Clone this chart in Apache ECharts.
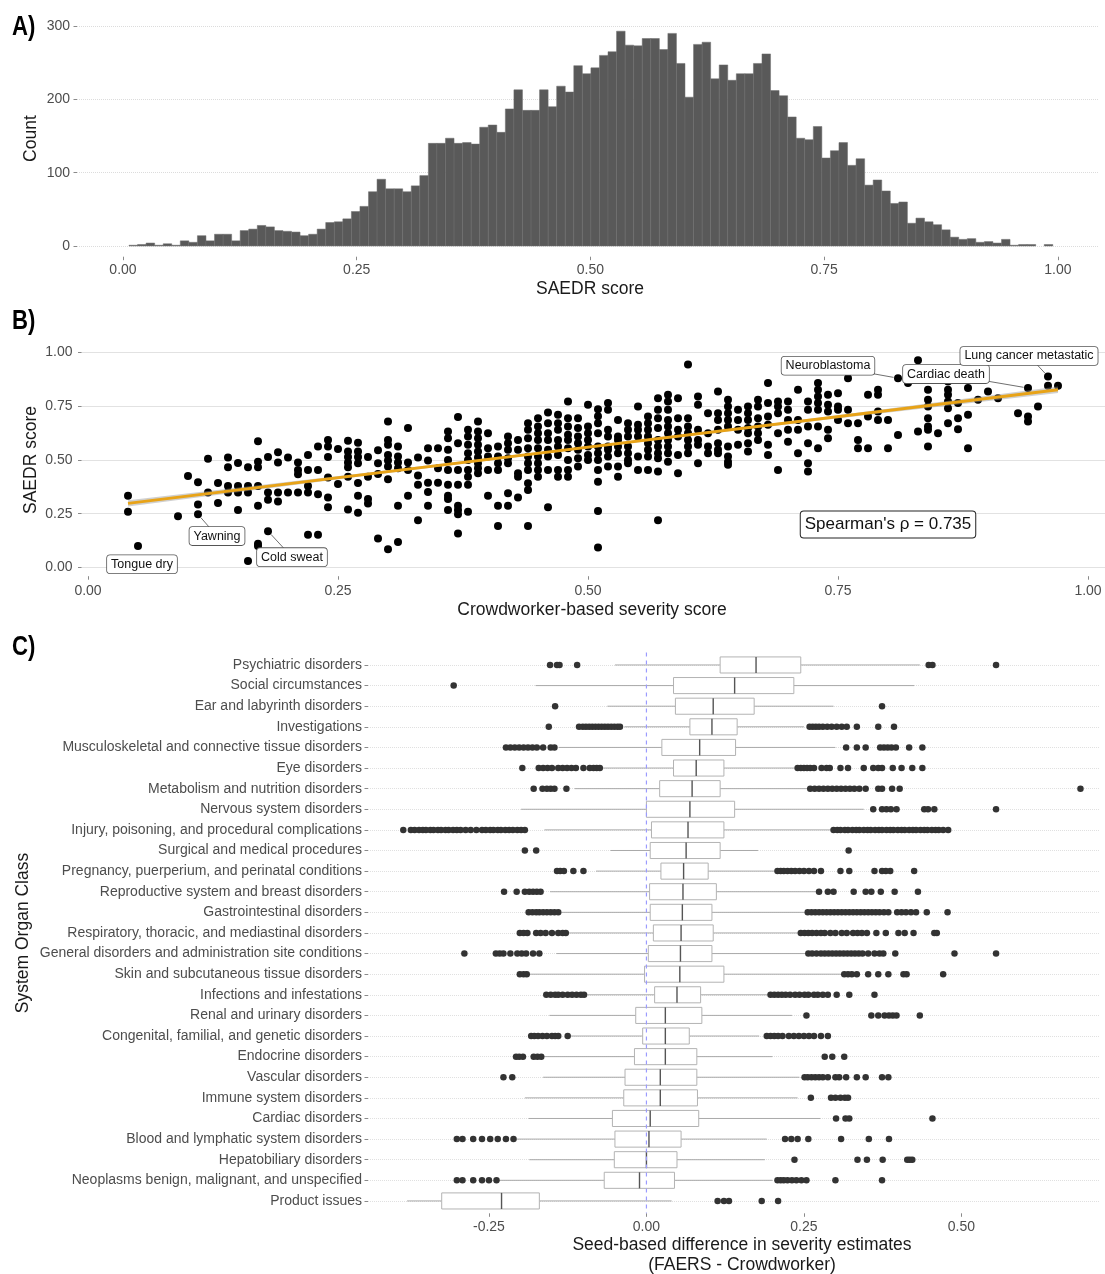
<!DOCTYPE html>
<html>
<head>
<meta charset="utf-8">
<title>SAEDR score figure</title>
<script src="https://cdn.jsdelivr.net/npm/echarts@6/dist/echarts.min.js"></script>
<style>
  html, body { margin: 0; padding: 0; background: #fff; }
  #chart { width: 1105px; height: 1274px; }
</style>
</head>
<body>
<div id="chart"></div>
<script>
// ---------- A) distribution of SAEDR scores ----------
const binStart = 0.0064;
const binWidth = 0.00915;
const binCounts = [
  1, 2, 4, 1, 3, 1, 7, 5, 14, 7, 16, 16, 7, 21, 23, 28, 26, 21, 20, 19,
  14, 16, 23, 32, 33, 37, 47, 54, 74, 91, 78, 78, 74, 82, 96, 140, 140, 147, 140, 141,
  139, 162, 165, 155, 187, 213, 185, 185, 213, 190, 218, 210, 246, 235, 243, 260, 265, 293, 274, 273,
  283, 283, 268, 290, 249, 203, 275, 278, 228, 247, 226, 235, 235, 249, 262, 212, 205, 176, 147, 145,
  163, 120, 130, 141, 110, 119, 83, 90, 75, 58, 60, 31, 38, 33, 29, 22, 12, 9, 10, 5,
  6, 4, 9, 1, 2, 2, 0, 2
];
const histXTicks = [0, 0.25, 0.5, 0.75, 1];
const histYTicks = [0, 100, 200, 300];

// ---------- B) crowdworker score vs SAEDR score ----------
// each entry: crowdworker score, then the SAEDR scores seen at that score
const scatterColumns = [
  [0.04, [0.334, 0.259]],
  [0.05, [0.100]],
  [0.09, [0.238]],
  [0.10, [0.425]],
  [0.11, [0.396, 0.293, 0.247]],
  [0.12, [0.505, 0.349]],
  [0.13, [0.393, 0.300]],
  [0.14, [0.511, 0.466, 0.379, 0.349]],
  [0.15, [0.486, 0.379, 0.348, 0.267]],
  [0.16, [0.466, 0.379, 0.349, 0.030]],
  [0.17, [0.587, 0.491, 0.466, 0.379, 0.287, 0.110, 0.100]],
  [0.18, [0.514, 0.348, 0.315, 0.169]],
  [0.19, [0.536, 0.488, 0.348, 0.307]],
  [0.20, [0.511, 0.348]],
  [0.21, [0.488, 0.453, 0.433, 0.348]],
  [0.22, [0.523, 0.453, 0.379, 0.348, 0.152]],
  [0.23, [0.562, 0.453, 0.340, 0.152]],
  [0.24, [0.593, 0.562, 0.514, 0.418, 0.325, 0.280]],
  [0.25, [0.551, 0.388]],
  [0.26, [0.589, 0.539, 0.514, 0.488, 0.466, 0.422, 0.269]],
  [0.27, [0.580, 0.539, 0.514, 0.484, 0.393, 0.334, 0.255]],
  [0.28, [0.514, 0.422, 0.318, 0.297]],
  [0.29, [0.545, 0.484, 0.435, 0.135]],
  [0.30, [0.679, 0.593, 0.570, 0.523, 0.497, 0.469, 0.410, 0.085]],
  [0.31, [0.562, 0.516, 0.488, 0.461, 0.287, 0.118]],
  [0.32, [0.648, 0.488, 0.453, 0.334]],
  [0.33, [0.511, 0.427, 0.384, 0.220]],
  [0.34, [0.554, 0.497, 0.394, 0.351, 0.287]],
  [0.35, [0.554, 0.461, 0.394]],
  [0.36, [0.632, 0.601, 0.547, 0.500, 0.453, 0.384, 0.334, 0.318, 0.267]],
  [0.37, [0.699, 0.578, 0.453, 0.384, 0.287, 0.267, 0.247, 0.158]],
  [0.38, [0.640, 0.609, 0.570, 0.531, 0.500, 0.453, 0.422, 0.384, 0.259]],
  [0.39, [0.679, 0.632, 0.601, 0.570, 0.539, 0.511, 0.484, 0.461, 0.438]],
  [0.40, [0.624, 0.554, 0.516, 0.453, 0.334]],
  [0.41, [0.562, 0.516, 0.484, 0.453, 0.287, 0.193]],
  [0.42, [0.609, 0.578, 0.547, 0.508, 0.484, 0.345, 0.287]],
  [0.43, [0.593, 0.547, 0.438, 0.422, 0.325]],
  [0.44, [0.671, 0.640, 0.601, 0.554, 0.516, 0.484, 0.453, 0.391, 0.360, 0.193]],
  [0.45, [0.694, 0.655, 0.624, 0.593, 0.554, 0.516, 0.484, 0.453, 0.422]],
  [0.46, [0.720, 0.671, 0.624, 0.593, 0.547, 0.516, 0.453, 0.280]],
  [0.47, [0.710, 0.671, 0.640, 0.593, 0.562, 0.523, 0.453, 0.422]],
  [0.48, [0.772, 0.694, 0.655, 0.617, 0.593, 0.554, 0.500, 0.453, 0.422]],
  [0.49, [0.694, 0.648, 0.609, 0.578, 0.547, 0.508, 0.469]],
  [0.50, [0.756, 0.655, 0.624, 0.593, 0.562, 0.523, 0.500]],
  [0.51, [0.736, 0.703, 0.671, 0.624, 0.562, 0.531, 0.500, 0.453, 0.399, 0.262, 0.093]],
  [0.52, [0.764, 0.733, 0.640, 0.609, 0.562, 0.547, 0.516, 0.469]],
  [0.53, [0.686, 0.609, 0.593, 0.562, 0.531, 0.469, 0.422]],
  [0.54, [0.671, 0.640, 0.609, 0.562, 0.531, 0.500, 0.484]],
  [0.55, [0.748, 0.663, 0.640, 0.609, 0.516, 0.453]],
  [0.56, [0.702, 0.671, 0.640, 0.609, 0.578, 0.547, 0.516, 0.453]],
  [0.57, [0.787, 0.733, 0.694, 0.648, 0.593, 0.562, 0.531, 0.508, 0.446, 0.220]],
  [0.58, [0.803, 0.772, 0.733, 0.686, 0.655, 0.624, 0.593, 0.562, 0.531, 0.492]],
  [0.59, [0.787, 0.694, 0.640, 0.609, 0.523, 0.438]],
  [0.60, [0.943, 0.694, 0.655, 0.624, 0.593, 0.562, 0.531]],
  [0.61, [0.795, 0.756, 0.640, 0.593, 0.570, 0.484]],
  [0.62, [0.717, 0.624, 0.562, 0.531]],
  [0.63, [0.818, 0.717, 0.686, 0.640, 0.578, 0.547, 0.531]],
  [0.64, [0.780, 0.748, 0.717, 0.686, 0.655, 0.562, 0.516, 0.492, 0.477]],
  [0.65, [0.733, 0.686, 0.640, 0.570]],
  [0.66, [0.748, 0.717, 0.686, 0.648, 0.624, 0.578, 0.539]],
  [0.67, [0.780, 0.748, 0.694, 0.655, 0.624, 0.593]],
  [0.68, [0.857, 0.764, 0.702, 0.663, 0.570, 0.523]],
  [0.69, [0.772, 0.748, 0.717, 0.624, 0.453]],
  [0.70, [0.772, 0.733, 0.686, 0.640, 0.585]],
  [0.71, [0.826, 0.686, 0.640, 0.531]],
  [0.72, [0.772, 0.733, 0.655, 0.578, 0.484, 0.446]],
  [0.73, [0.857, 0.826, 0.795, 0.764, 0.733, 0.655, 0.554]],
  [0.74, [0.803, 0.756, 0.725, 0.640, 0.601]],
  [0.75, [0.810, 0.748, 0.733, 0.686]],
  [0.76, [0.880, 0.733, 0.671]],
  [0.77, [0.671, 0.593, 0.554]],
  [0.78, [0.803, 0.702, 0.554]],
  [0.79, [0.826, 0.803, 0.725, 0.686]],
  [0.80, [0.686, 0.554]],
  [0.81, [0.880, 0.616]],
  [0.82, [0.857]],
  [0.83, [0.963, 0.632]],
  [0.84, [0.826, 0.780, 0.748, 0.694, 0.655, 0.640, 0.562]],
  [0.85, [0.624]],
  [0.86, [0.865, 0.826, 0.803, 0.772, 0.740, 0.671]],
  [0.87, [0.764, 0.694, 0.643]],
  [0.88, [0.834, 0.710, 0.554]],
  [0.89, [0.780]],
  [0.90, [0.818]],
  [0.91, [0.787]],
  [0.93, [0.717]],
  [0.94, [0.834, 0.702, 0.679]],
  [0.95, [0.748]],
  [0.96, [0.888, 0.845]],
  [0.97, [0.845]]
];
const fitX = [0.04, 0.97];
const fitY = [0.298, 0.826];
const bandX = [0.04, 0.27, 0.50, 0.74, 0.97];
const bandLow = [0.284, 0.422, 0.554, 0.688, 0.811];
const bandHigh = [0.312, 0.436, 0.564, 0.702, 0.841];
const labelNames = ['Tongue dry', 'Yawning', 'Cold sweat', 'Neuroblastoma', 'Cardiac death', 'Lung cancer metastatic'];
const labelPoints = [[0.05, 0.100], [0.11, 0.247], [0.18, 0.169], [0.81, 0.880], [0.94, 0.834], [0.96, 0.888]];
const labelSpots = [[0.054, 0.015], [0.129, 0.146], [0.204, 0.048], [0.740, 0.938], [0.858, 0.899], [0.941, 0.983]];
const labelLeader = [false, true, true, true, true, true];
const spearmanText = "Spearman's \u03c1 = 0.735";
const spearmanSpot = [0.8, 0.2];
const scatterTicks = [0, 0.25, 0.5, 0.75, 1];

// ---------- C) seed-based difference by system organ class ----------
const organClasses = [
  'Psychiatric disorders', 'Social circumstances', 'Ear and labyrinth disorders', 'Investigations',
  'Musculoskeletal and connective tissue disorders', 'Eye disorders', 'Metabolism and nutrition disorders',
  'Nervous system disorders', 'Injury, poisoning, and procedural complications', 'Surgical and medical procedures',
  'Pregnancy, puerperium, and perinatal conditions', 'Reproductive system and breast disorders',
  'Gastrointestinal disorders', 'Respiratory, thoracic, and mediastinal disorders',
  'General disorders and administration site conditions', 'Skin and subcutaneous tissue disorders',
  'Infections and infestations', 'Renal and urinary disorders', 'Congenital, familial, and genetic disorders',
  'Endocrine disorders', 'Vascular disorders', 'Immune system disorders', 'Cardiac disorders',
  'Blood and lymphatic system disorders', 'Hepatobiliary disorders',
  'Neoplasms benign, malignant, and unspecified', 'Product issues'
];
const whiskerLow = [-0.050, -0.176, -0.062, -0.035, -0.139, -0.071, -0.114, -0.199, -0.162, -0.057, -0.080, -0.153, -0.135, -0.126, -0.143, -0.187, -0.094, -0.154, -0.122, -0.164, -0.164, -0.193, -0.187, -0.207, -0.186, -0.233, -0.380];
const quart1 = [0.117, 0.043, 0.046, 0.069, 0.0245, 0.043, 0.021, 0.000, 0.008, 0.006, 0.023, 0.005, 0.006, 0.011, 0.003, -0.003, 0.013, -0.017, -0.006, -0.019, -0.034, -0.036, -0.054, -0.050, -0.051, -0.067, -0.325];
const medians = [0.174, 0.140, 0.106, 0.104, 0.0845, 0.079, 0.0725, 0.069, 0.066, 0.063, 0.059, 0.058, 0.057, 0.055, 0.054, 0.053, 0.0485, 0.030, 0.030, 0.030, 0.022, 0.022, 0.006, 0.004, 0.000, -0.011, -0.230];
const quart3 = [0.245, 0.234, 0.171, 0.144, 0.1415, 0.123, 0.117, 0.140, 0.123, 0.117, 0.098, 0.111, 0.104, 0.106, 0.104, 0.123, 0.086, 0.088, 0.068, 0.080, 0.080, 0.081, 0.083, 0.055, 0.0485, 0.0445, -0.170];
const whiskerHigh = [0.434, 0.425, 0.297, 0.250, 0.300, 0.237, 0.257, 0.345, 0.294, 0.177, 0.205, 0.270, 0.251, 0.243, 0.257, 0.311, 0.194, 0.231, 0.179, 0.200, 0.243, 0.240, 0.276, 0.191, 0.188, 0.200, 0.040];
const outliers = [
  [-0.153, -0.142, -0.138, -0.110, 0.448, 0.454, 0.555],
  [-0.306],
  [-0.145, 0.374],
  [-0.155, -0.107, -0.101, -0.096, -0.091, -0.086, -0.081, -0.076, -0.071, -0.066, -0.061, -0.056, -0.051, -0.046, -0.042,
   0.259, 0.264, 0.269, 0.274, 0.280, 0.287, 0.294, 0.302, 0.310, 0.318, 0.334, 0.368, 0.393],
  [-0.223, -0.216, -0.209, -0.202, -0.195, -0.188, -0.181, -0.174, -0.164, -0.152, -0.146,
   0.317, 0.334, 0.348, 0.371, 0.377, 0.383, 0.389, 0.396, 0.417, 0.438],
  [-0.197, -0.171, -0.164, -0.157, -0.150, -0.140, -0.133, -0.126, -0.119, -0.112, -0.100, -0.090, -0.084, -0.079, -0.074,
   0.240, 0.245, 0.250, 0.255, 0.260, 0.266, 0.278, 0.286, 0.291, 0.308, 0.320, 0.345, 0.360, 0.368, 0.374, 0.391, 0.405, 0.422, 0.438],
  [-0.179, -0.165, -0.158, -0.152, -0.146, -0.127,
   0.260, 0.267, 0.274, 0.281, 0.288, 0.295, 0.302, 0.309, 0.316, 0.323, 0.330, 0.338, 0.348, 0.368, 0.374, 0.390, 0.402, 0.689],
  [0.360, 0.374, 0.381, 0.388, 0.397, 0.441, 0.447, 0.457, 0.555],
  [-0.386, -0.374, -0.368, -0.361, -0.355, -0.350, -0.343, -0.338, -0.331, -0.326, -0.319, -0.314, -0.307, -0.301, -0.295,
   -0.287, -0.279, -0.270, -0.261, -0.255, -0.248, -0.243, -0.236, -0.231, -0.224, -0.218, -0.212, -0.205, -0.199, -0.193,
   0.297, 0.303, 0.308, 0.315, 0.320, 0.327, 0.333, 0.338, 0.345, 0.351, 0.356, 0.363, 0.369, 0.374, 0.381, 0.387, 0.392,
   0.399, 0.405, 0.410, 0.417, 0.423, 0.428, 0.435, 0.441, 0.446, 0.453, 0.459, 0.464, 0.471, 0.479],
  [-0.193, -0.175, 0.321],
  [-0.142, -0.137, -0.131, -0.116, -0.100,
   0.208, 0.213, 0.218, 0.224, 0.230, 0.236, 0.243, 0.250, 0.258, 0.266, 0.277, 0.308, 0.322, 0.362, 0.374, 0.380, 0.387, 0.425],
  [-0.226, -0.206, -0.193, -0.186, -0.180, -0.174, -0.168,
   0.274, 0.288, 0.297, 0.329, 0.348, 0.357, 0.372, 0.394, 0.431],
  [-0.187, -0.181, -0.175, -0.170, -0.164, -0.158, -0.152, -0.146, -0.140,
   0.256, 0.262, 0.268, 0.274, 0.280, 0.286, 0.292, 0.298, 0.304, 0.310, 0.316, 0.322, 0.328, 0.334, 0.340, 0.346, 0.352,
   0.358, 0.364, 0.370, 0.377, 0.384, 0.398, 0.405, 0.412, 0.420, 0.428, 0.445, 0.478],
  [-0.201, -0.195, -0.189, -0.175, -0.168, -0.160, -0.150, -0.140, -0.133, -0.128,
   0.245, 0.251, 0.257, 0.263, 0.270, 0.277, 0.283, 0.292, 0.300, 0.310, 0.318, 0.328, 0.335, 0.342, 0.350, 0.365,
   0.380, 0.400, 0.410, 0.424, 0.457, 0.461],
  [-0.289, -0.239, -0.233, -0.227, -0.216, -0.205, -0.198, -0.191, -0.180, -0.170,
   0.257, 0.263, 0.270, 0.277, 0.283, 0.289, 0.295, 0.301, 0.307, 0.313, 0.319, 0.325, 0.331, 0.337, 0.343, 0.352,
   0.362, 0.370, 0.376, 0.395, 0.489, 0.555],
  [-0.201, -0.195, -0.190, 0.314, 0.320, 0.326, 0.334, 0.352, 0.368, 0.384, 0.408, 0.413, 0.471],
  [-0.159, -0.152, -0.145, -0.140, -0.133, -0.125, -0.118, -0.111, -0.104, -0.099,
   0.197, 0.203, 0.209, 0.215, 0.221, 0.228, 0.236, 0.243, 0.251, 0.257, 0.266, 0.272, 0.280, 0.288, 0.302, 0.322, 0.362],
  [0.254, 0.357, 0.368, 0.378, 0.385, 0.391, 0.397, 0.434],
  [-0.183, -0.178, -0.172, -0.165, -0.158, -0.150, -0.145, -0.140, -0.125,
   0.191, 0.197, 0.203, 0.209, 0.216, 0.226, 0.234, 0.242, 0.250, 0.258, 0.266, 0.277, 0.288],
  [-0.207, -0.202, -0.196, -0.179, -0.173, -0.167, 0.283, 0.295, 0.314],
  [-0.227, -0.213, 0.251, 0.256, 0.262, 0.268, 0.274, 0.280, 0.288, 0.300, 0.306, 0.317, 0.334, 0.348, 0.374, 0.384],
  [0.261, 0.293, 0.300, 0.308, 0.315, 0.320],
  [0.301, 0.316, 0.322, 0.454],
  [-0.301, -0.292, -0.275, -0.261, -0.248, -0.236, -0.223, -0.211, 0.220, 0.230, 0.240, 0.257, 0.309, 0.353, 0.385],
  [0.235, 0.335, 0.350, 0.375, 0.414, 0.418, 0.422],
  [-0.301, -0.292, -0.275, -0.261, -0.250, -0.238, 0.208, 0.213, 0.218, 0.224, 0.231, 0.238, 0.246, 0.254, 0.300, 0.374],
  [0.113, 0.123, 0.131, 0.183, 0.209]
];
const diffTicks = [-0.25, 0, 0.25, 0.5];
const zeroLineX = [0, 0];
const zeroLineY = [-0.6, 26.6];

const FONT = "'Liberation Sans', Arial, Helvetica, sans-serif";
const tickLabel = { fontFamily: FONT, fontSize: 14, color: '#4d4d4d' };
const tickMark = { show: true, length: 3.5, lineStyle: { color: '#8a8a8a', width: 1 } };
const titleStyle = { fontFamily: FONT, fontSize: 17.5, fill: '#1a1a1a', align: 'center', verticalAlign: 'middle' };
const letterStyle = { fontFamily: FONT, fontWeight: 'bold', fontSize: 27, fill: '#000', verticalAlign: 'middle' };

function makeAxis(gridIndex, min, max, ticks, formatter, grid, margin, extra) {
  return Object.assign({
    type: 'value',
    gridIndex: gridIndex,
    min: min,
    max: max,
    axisLine: { show: false, onZero: false },
    axisTick: Object.assign({ customValues: ticks }, tickMark),
    axisLabel: Object.assign({ customValues: ticks, formatter: formatter, margin: margin }, tickLabel),
    splitLine: grid
      ? { show: true, lineStyle: { type: 'dotted', color: grid, width: 1 } }
      : { show: false }
  }, extra || {});
}

const fmt2 = v => Number(v).toFixed(2);
const classIndex = organClasses.map((n, i) => i);

const scatterData = [];
scatterColumns.forEach(col => col[1].forEach(y => scatterData.push([col[0], y])));

const outlierData = [];
outliers.forEach((list, i) => list.forEach(v => outlierData.push([v, i])));

const boxData = organClasses.map((name, i) => [i, whiskerLow[i], quart1[i], medians[i], quart3[i], whiskerHigh[i]]);

const chart = echarts.init(document.getElementById('chart'));

chart.setOption({
  animation: false,
  backgroundColor: '#fff',
  grid: [
    { left: 77, right: 6, top: 20.5, height: 236.2 },
    { left: 81.5, right: 0.5, top: 350.2, height: 226 },
    { left: 368, right: 5, top: 652.6, height: 560.7 }
  ],
  xAxis: [
    makeAxis(0, -0.0492, 1.044, histXTicks, fmt2, null, 6),
    makeAxis(1, -0.0065, 1.0165, scatterTicks, fmt2, null, 8),
    makeAxis(2, -0.442, 0.72, diffTicks, fmt2, null, 7)
  ],
  yAxis: [
    makeAxis(0, -14.65, 307.6, histYTicks, v => String(v), '#dcdcdc', 7),
    makeAxis(1, -0.0405, 1.01, scatterTicks, fmt2, '#c4c4c4', 9),
    makeAxis(2, -0.6, 26.6, classIndex, v => organClasses[v] || '', '#e0e0e0', 6, { inverse: true })
  ],
  graphic: [
    { type: 'text', x: 12, y: 28, scaleX: 0.82, style: Object.assign({ text: 'A)' }, letterStyle) },
    { type: 'text', x: 12, y: 322, scaleX: 0.82, style: Object.assign({ text: 'B)' }, letterStyle) },
    { type: 'text', x: 12, y: 648, scaleX: 0.82, style: Object.assign({ text: 'C)' }, letterStyle) },
    { type: 'text', x: 31, y: 138.6, rotation: Math.PI / 2, style: Object.assign({ text: 'Count' }, titleStyle) },
    { type: 'text', x: 590, y: 289, style: Object.assign({ text: 'SAEDR score' }, titleStyle) },
    { type: 'text', x: 31, y: 460, rotation: Math.PI / 2, style: Object.assign({ text: 'SAEDR score' }, titleStyle) },
    { type: 'text', x: 592, y: 610, style: Object.assign({ text: 'Crowdworker-based severity score' }, titleStyle) },
    { type: 'text', x: 23, y: 933, rotation: Math.PI / 2, style: Object.assign({ text: 'System Organ Class' }, titleStyle) },
    { type: 'text', x: 742, y: 1245, style: Object.assign({ text: 'Seed-based difference in severity estimates' }, titleStyle) },
    { type: 'text', x: 742, y: 1265, style: Object.assign({ text: '(FAERS - Crowdworker)' }, titleStyle) }
  ],
  series: [
    // A) histogram bars
    {
      type: 'custom',
      xAxisIndex: 0,
      yAxisIndex: 0,
      silent: true,
      data: binCounts.map((c, k) => [binStart + k * binWidth, binStart + (k + 1) * binWidth, c]),
      encode: { x: [0, 1], y: 2 },
      renderItem: (params, api) => {
        if (!api.value(2)) return null;
        const tl = api.coord([api.value(0), api.value(2)]);
        const br = api.coord([api.value(1), 0]);
        return {
          type: 'rect',
          shape: { x: tl[0], y: tl[1], width: br[0] - tl[0], height: br[1] - tl[1] },
          style: { fill: '#595959', stroke: '#6c6c6c', lineWidth: 0.5 }
        };
      }
    },
    // B) points
    {
      type: 'scatter',
      xAxisIndex: 1,
      yAxisIndex: 1,
      silent: true,
      symbolSize: 8,
      itemStyle: { color: '#000', opacity: 1 },
      data: scatterData,
      z: 2
    },
    // B) confidence band of the fit
    {
      type: 'custom',
      xAxisIndex: 1,
      yAxisIndex: 1,
      silent: true,
      z: 3,
      data: [[bandX[0], bandLow[0]]],
      renderItem: (params, api) => {
        const upper = bandX.map((x, i) => api.coord([x, bandHigh[i]]));
        const lower = bandX.map((x, i) => api.coord([x, bandLow[i]])).reverse();
        return { type: 'polygon', shape: { points: upper.concat(lower) }, style: { fill: 'rgba(150,150,150,0.45)' } };
      }
    },
    // B) linear fit
    {
      type: 'line',
      xAxisIndex: 1,
      yAxisIndex: 1,
      silent: true,
      showSymbol: false,
      z: 4,
      data: fitX.map((x, i) => [x, fitY[i]]),
      lineStyle: { color: '#E8A317', width: 3 }
    },
    // B) repelled labels
    {
      type: 'custom',
      xAxisIndex: 1,
      yAxisIndex: 1,
      silent: true,
      z: 6,
      data: labelNames.map((n, i) => [labelPoints[i][0], labelPoints[i][1], labelSpots[i][0], labelSpots[i][1], labelLeader[i] ? 1 : 0]),
      renderItem: (params, api) => {
        const p = api.coord([api.value(0), api.value(1)]);
        const l = api.coord([api.value(2), api.value(3)]);
        const children = [];
        if (api.value(4)) {
          const dx = l[0] - p[0], dy = l[1] - p[1];
          const len = Math.sqrt(dx * dx + dy * dy) || 1;
          children.push({
            type: 'line',
            shape: { x1: p[0] + dx / len * 4.5, y1: p[1] + dy / len * 4.5, x2: l[0], y2: l[1] },
            style: { stroke: '#707070', lineWidth: 1 }
          });
        }
        children.push({
          type: 'text',
          x: l[0],
          y: l[1],
          style: {
            text: labelNames[params.dataIndex],
            fontFamily: FONT,
            fontSize: 12.5,
            fill: '#111',
            align: 'center',
            verticalAlign: 'middle',
            backgroundColor: '#fff',
            borderColor: '#555',
            borderWidth: 0.8,
            borderRadius: 3,
            padding: [3, 4, 2, 4]
          }
        });
        return { type: 'group', children: children };
      }
    },
    // B) correlation box
    {
      type: 'custom',
      xAxisIndex: 1,
      yAxisIndex: 1,
      silent: true,
      z: 6,
      data: [spearmanSpot],
      renderItem: (params, api) => {
        const c = api.coord([api.value(0), api.value(1)]);
        return {
          type: 'text',
          x: c[0],
          y: c[1],
          style: {
            text: spearmanText,
            fontFamily: FONT,
            fontSize: 17,
            fill: '#111',
            align: 'center',
            verticalAlign: 'middle',
            backgroundColor: '#fff',
            borderColor: '#222',
            borderWidth: 1,
            borderRadius: 3,
            padding: [5, 4, 4, 4]
          }
        };
      }
    },
    // C) boxes and whiskers
    {
      type: 'custom',
      xAxisIndex: 2,
      yAxisIndex: 2,
      silent: true,
      z: 2,
      data: boxData,
      encode: { x: [1, 2, 3, 4, 5], y: 0 },
      renderItem: (params, api) => {
        const i = api.value(0);
        const half = Math.abs(api.size([0, 1])[1]) * 0.39;
        const lo = api.coord([api.value(1), i]);
        const q1 = api.coord([api.value(2), i]);
        const md = api.coord([api.value(3), i]);
        const q3 = api.coord([api.value(4), i]);
        const hi = api.coord([api.value(5), i]);
        const y = lo[1];
        const whisker = { stroke: '#a9a9a9', lineWidth: 1 };
        return {
          type: 'group',
          children: [
            { type: 'line', shape: { x1: lo[0], y1: y, x2: q1[0], y2: y }, style: whisker },
            { type: 'line', shape: { x1: q3[0], y1: y, x2: hi[0], y2: y }, style: whisker },
            { type: 'rect', shape: { x: q1[0], y: y - half, width: q3[0] - q1[0], height: half * 2 },
              style: { fill: '#fff', stroke: '#b3b3b3', lineWidth: 1 } },
            { type: 'line', shape: { x1: md[0], y1: y - half, x2: md[0], y2: y + half },
              style: { stroke: '#555', lineWidth: 1.4 } }
          ]
        };
      }
    },
    // C) outliers
    {
      type: 'scatter',
      xAxisIndex: 2,
      yAxisIndex: 2,
      silent: true,
      symbolSize: 6.5,
      itemStyle: { color: '#333', opacity: 1 },
      data: outlierData,
      z: 3
    },
    // C) zero reference
    {
      type: 'line',
      xAxisIndex: 2,
      yAxisIndex: 2,
      silent: true,
      showSymbol: false,
      z: 4,
      data: zeroLineX.map((x, i) => [x, zeroLineY[i]]),
      lineStyle: { color: '#9b9bff', width: 1.2, type: [4, 4] }
    }
  ]
});
</script>
</body>
</html>
